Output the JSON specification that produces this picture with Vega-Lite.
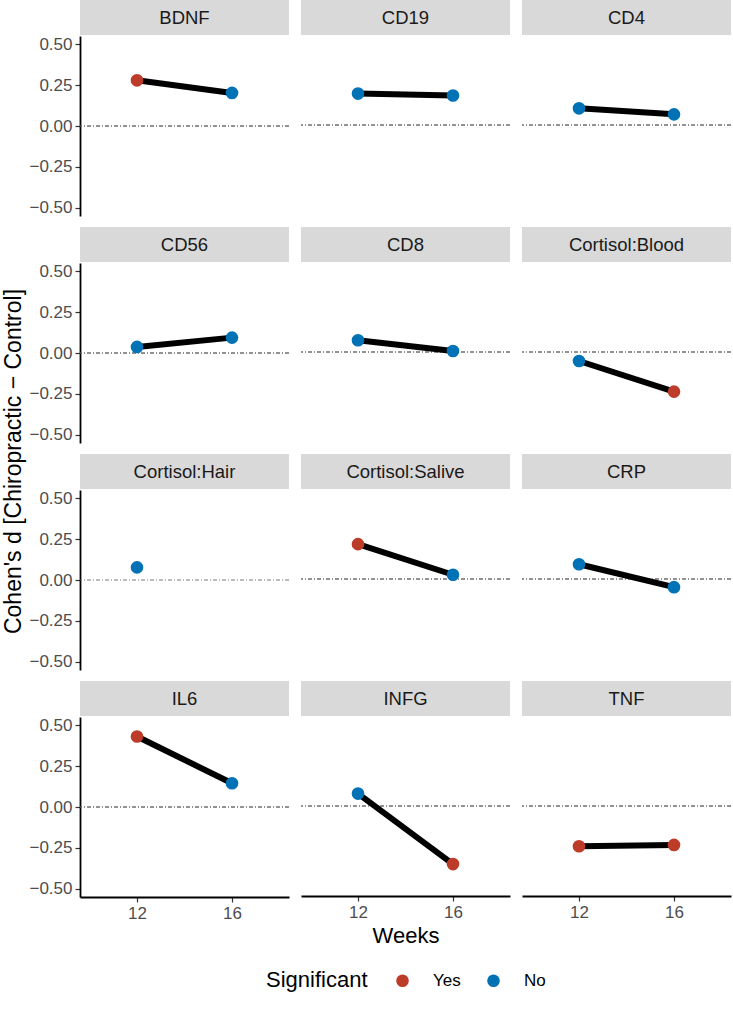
{
  "$schema": "https://vega.github.io/schema/vega-lite/v6.json",
  "padding": {"left": 2, "top": 0, "right": 0, "bottom": 4},
  "background": "white",
  "title": {"text": "Cohen's d [Chiropractic − Control]", "orient": "left", "anchor": "middle", "font": "Liberation Sans", "fontSize": 23, "fontWeight": "normal", "color": "black", "offset": 3, "dx": 34},
  "datasets": {
    "d": [
      {"marker": "BDNF", "week": 12, "d": 0.279, "sig": "Yes"},
      {"marker": "BDNF", "week": 16, "d": 0.202, "sig": "No"},
      {"marker": "CD19", "week": 12, "d": 0.192, "sig": "No"},
      {"marker": "CD19", "week": 16, "d": 0.180, "sig": "No"},
      {"marker": "CD4", "week": 12, "d": 0.102, "sig": "No"},
      {"marker": "CD4", "week": 16, "d": 0.065, "sig": "No"},
      {"marker": "CD56", "week": 12, "d": 0.037, "sig": "No"},
      {"marker": "CD56", "week": 16, "d": 0.094, "sig": "No"},
      {"marker": "CD8", "week": 12, "d": 0.072, "sig": "No"},
      {"marker": "CD8", "week": 16, "d": 0.006, "sig": "No"},
      {"marker": "Cortisol:Blood", "week": 12, "d": -0.055, "sig": "No"},
      {"marker": "Cortisol:Blood", "week": 16, "d": -0.242, "sig": "Yes"},
      {"marker": "Cortisol:Hair", "week": 12, "d": 0.077, "sig": "No"},
      {"marker": "Cortisol:Salive", "week": 12, "d": 0.213, "sig": "Yes"},
      {"marker": "Cortisol:Salive", "week": 16, "d": 0.026, "sig": "No"},
      {"marker": "CRP", "week": 12, "d": 0.090, "sig": "No"},
      {"marker": "CRP", "week": 16, "d": -0.050, "sig": "No"},
      {"marker": "IL6", "week": 12, "d": 0.431, "sig": "Yes"},
      {"marker": "IL6", "week": 16, "d": 0.145, "sig": "No"},
      {"marker": "INFG", "week": 12, "d": 0.076, "sig": "No"},
      {"marker": "INFG", "week": 16, "d": -0.355, "sig": "Yes"},
      {"marker": "TNF", "week": 12, "d": -0.246, "sig": "Yes"},
      {"marker": "TNF", "week": 16, "d": -0.238, "sig": "Yes"}
    ]
  },
  "data": {"name": "d"},
  "spacing": 11,
  "vconcat": [
    {"spacing": 10, "hconcat": [
      {"spacing": 0, "vconcat": [
        {"width": 209, "height": 35, "view": {"fill": "#D9D9D9", "stroke": null},
         "transform": [{"filter": "datum.marker === 'BDNF' && datum.week === 12"}],
         "mark": {"type": "text", "font": "Liberation Sans", "fontSize": 18.5, "color": "#1A1A1A", "align": "center", "baseline": "middle"},
         "encoding": {"text": {"field": "marker"}}},
        {"width": 209, "height": 180,
         "transform": [{"filter": "datum.marker === 'BDNF'"}],
         "layer": [
           {"mark": {"type": "rule", "color": "#555555", "strokeWidth": 0.8, "strokeDash": [4, 2, 1, 2]},
            "encoding": {"y": {"datum": 0, "type": "quantitative", "scale": {"domain": [-0.55, 0.55], "nice": false, "zero": false}, "axis": {"values": [-0.5, -0.25, 0, 0.25, 0.5], "format": ".2f", "title": null}}}},
           {"mark": {"type": "line", "color": "black", "strokeWidth": 6},
            "encoding": {
              "x": {"field": "week", "type": "quantitative", "scale": {"domain": [9.6, 18.4], "nice": false, "zero": false}, "axis": null},
              "y": {"field": "d", "type": "quantitative", "scale": {"domain": [-0.55, 0.55], "nice": false, "zero": false}, "axis": {"values": [-0.5, -0.25, 0, 0.25, 0.5], "format": ".2f", "title": null}}}},
           {"mark": {"type": "circle", "size": 160, "opacity": 1},
            "encoding": {
              "x": {"field": "week", "type": "quantitative", "scale": {"domain": [9.6, 18.4], "nice": false, "zero": false}, "axis": null},
              "y": {"field": "d", "type": "quantitative", "scale": {"domain": [-0.55, 0.55], "nice": false, "zero": false}, "axis": {"values": [-0.5, -0.25, 0, 0.25, 0.5], "format": ".2f", "title": null}},
              "color": {"field": "sig", "type": "nominal", "title": "Significant", "scale": {"domain": ["Yes", "No"], "range": ["#BC3C29", "#0072B5"]}}}}
         ]}
      ]},
      {"spacing": 0, "vconcat": [
        {"width": 209, "height": 35, "view": {"fill": "#D9D9D9", "stroke": null},
         "transform": [{"filter": "datum.marker === 'CD19' && datum.week === 12"}],
         "mark": {"type": "text", "font": "Liberation Sans", "fontSize": 18.5, "color": "#1A1A1A", "align": "center", "baseline": "middle"},
         "encoding": {"text": {"field": "marker"}}},
        {"width": 209, "height": 180,
         "transform": [{"filter": "datum.marker === 'CD19'"}],
         "layer": [
           {"mark": {"type": "rule", "color": "#555555", "strokeWidth": 0.8, "strokeDash": [4, 2, 1, 2]},
            "encoding": {"y": {"datum": 0, "type": "quantitative", "scale": {"domain": [-0.55, 0.55], "nice": false, "zero": false}, "axis": null}}},
           {"mark": {"type": "line", "color": "black", "strokeWidth": 6},
            "encoding": {
              "x": {"field": "week", "type": "quantitative", "scale": {"domain": [9.6, 18.4], "nice": false, "zero": false}, "axis": null},
              "y": {"field": "d", "type": "quantitative", "scale": {"domain": [-0.55, 0.55], "nice": false, "zero": false}, "axis": null}}},
           {"mark": {"type": "circle", "size": 160, "opacity": 1},
            "encoding": {
              "x": {"field": "week", "type": "quantitative", "scale": {"domain": [9.6, 18.4], "nice": false, "zero": false}, "axis": null},
              "y": {"field": "d", "type": "quantitative", "scale": {"domain": [-0.55, 0.55], "nice": false, "zero": false}, "axis": null},
              "color": {"field": "sig", "type": "nominal", "title": "Significant", "scale": {"domain": ["Yes", "No"], "range": ["#BC3C29", "#0072B5"]}}}}
         ]}
      ]},
      {"spacing": 0, "vconcat": [
        {"width": 209, "height": 35, "view": {"fill": "#D9D9D9", "stroke": null},
         "transform": [{"filter": "datum.marker === 'CD4' && datum.week === 12"}],
         "mark": {"type": "text", "font": "Liberation Sans", "fontSize": 18.5, "color": "#1A1A1A", "align": "center", "baseline": "middle"},
         "encoding": {"text": {"field": "marker"}}},
        {"width": 209, "height": 180,
         "transform": [{"filter": "datum.marker === 'CD4'"}],
         "layer": [
           {"mark": {"type": "rule", "color": "#555555", "strokeWidth": 0.8, "strokeDash": [4, 2, 1, 2]},
            "encoding": {"y": {"datum": 0, "type": "quantitative", "scale": {"domain": [-0.55, 0.55], "nice": false, "zero": false}, "axis": null}}},
           {"mark": {"type": "line", "color": "black", "strokeWidth": 6},
            "encoding": {
              "x": {"field": "week", "type": "quantitative", "scale": {"domain": [9.6, 18.4], "nice": false, "zero": false}, "axis": null},
              "y": {"field": "d", "type": "quantitative", "scale": {"domain": [-0.55, 0.55], "nice": false, "zero": false}, "axis": null}}},
           {"mark": {"type": "circle", "size": 160, "opacity": 1},
            "encoding": {
              "x": {"field": "week", "type": "quantitative", "scale": {"domain": [9.6, 18.4], "nice": false, "zero": false}, "axis": null},
              "y": {"field": "d", "type": "quantitative", "scale": {"domain": [-0.55, 0.55], "nice": false, "zero": false}, "axis": null},
              "color": {"field": "sig", "type": "nominal", "title": "Significant", "scale": {"domain": ["Yes", "No"], "range": ["#BC3C29", "#0072B5"]}}}}
         ]}
      ]}
    ]},
    {"spacing": 10, "hconcat": [
      {"spacing": 0, "vconcat": [
        {"width": 209, "height": 35, "view": {"fill": "#D9D9D9", "stroke": null},
         "transform": [{"filter": "datum.marker === 'CD56' && datum.week === 12"}],
         "mark": {"type": "text", "font": "Liberation Sans", "fontSize": 18.5, "color": "#1A1A1A", "align": "center", "baseline": "middle"},
         "encoding": {"text": {"field": "marker"}}},
        {"width": 209, "height": 180,
         "transform": [{"filter": "datum.marker === 'CD56'"}],
         "layer": [
           {"mark": {"type": "rule", "color": "#555555", "strokeWidth": 0.8, "strokeDash": [4, 2, 1, 2]},
            "encoding": {"y": {"datum": 0, "type": "quantitative", "scale": {"domain": [-0.55, 0.55], "nice": false, "zero": false}, "axis": {"values": [-0.5, -0.25, 0, 0.25, 0.5], "format": ".2f", "title": null}}}},
           {"mark": {"type": "line", "color": "black", "strokeWidth": 6},
            "encoding": {
              "x": {"field": "week", "type": "quantitative", "scale": {"domain": [9.6, 18.4], "nice": false, "zero": false}, "axis": null},
              "y": {"field": "d", "type": "quantitative", "scale": {"domain": [-0.55, 0.55], "nice": false, "zero": false}, "axis": {"values": [-0.5, -0.25, 0, 0.25, 0.5], "format": ".2f", "title": null}}}},
           {"mark": {"type": "circle", "size": 160, "opacity": 1},
            "encoding": {
              "x": {"field": "week", "type": "quantitative", "scale": {"domain": [9.6, 18.4], "nice": false, "zero": false}, "axis": null},
              "y": {"field": "d", "type": "quantitative", "scale": {"domain": [-0.55, 0.55], "nice": false, "zero": false}, "axis": {"values": [-0.5, -0.25, 0, 0.25, 0.5], "format": ".2f", "title": null}},
              "color": {"field": "sig", "type": "nominal", "title": "Significant", "scale": {"domain": ["Yes", "No"], "range": ["#BC3C29", "#0072B5"]}}}}
         ]}
      ]},
      {"spacing": 0, "vconcat": [
        {"width": 209, "height": 35, "view": {"fill": "#D9D9D9", "stroke": null},
         "transform": [{"filter": "datum.marker === 'CD8' && datum.week === 12"}],
         "mark": {"type": "text", "font": "Liberation Sans", "fontSize": 18.5, "color": "#1A1A1A", "align": "center", "baseline": "middle"},
         "encoding": {"text": {"field": "marker"}}},
        {"width": 209, "height": 180,
         "transform": [{"filter": "datum.marker === 'CD8'"}],
         "layer": [
           {"mark": {"type": "rule", "color": "#555555", "strokeWidth": 0.8, "strokeDash": [4, 2, 1, 2]},
            "encoding": {"y": {"datum": 0, "type": "quantitative", "scale": {"domain": [-0.55, 0.55], "nice": false, "zero": false}, "axis": null}}},
           {"mark": {"type": "line", "color": "black", "strokeWidth": 6},
            "encoding": {
              "x": {"field": "week", "type": "quantitative", "scale": {"domain": [9.6, 18.4], "nice": false, "zero": false}, "axis": null},
              "y": {"field": "d", "type": "quantitative", "scale": {"domain": [-0.55, 0.55], "nice": false, "zero": false}, "axis": null}}},
           {"mark": {"type": "circle", "size": 160, "opacity": 1},
            "encoding": {
              "x": {"field": "week", "type": "quantitative", "scale": {"domain": [9.6, 18.4], "nice": false, "zero": false}, "axis": null},
              "y": {"field": "d", "type": "quantitative", "scale": {"domain": [-0.55, 0.55], "nice": false, "zero": false}, "axis": null},
              "color": {"field": "sig", "type": "nominal", "title": "Significant", "scale": {"domain": ["Yes", "No"], "range": ["#BC3C29", "#0072B5"]}}}}
         ]}
      ]},
      {"spacing": 0, "vconcat": [
        {"width": 209, "height": 35, "view": {"fill": "#D9D9D9", "stroke": null},
         "transform": [{"filter": "datum.marker === 'Cortisol:Blood' && datum.week === 12"}],
         "mark": {"type": "text", "font": "Liberation Sans", "fontSize": 18.5, "color": "#1A1A1A", "align": "center", "baseline": "middle"},
         "encoding": {"text": {"field": "marker"}}},
        {"width": 209, "height": 180,
         "transform": [{"filter": "datum.marker === 'Cortisol:Blood'"}],
         "layer": [
           {"mark": {"type": "rule", "color": "#555555", "strokeWidth": 0.8, "strokeDash": [4, 2, 1, 2]},
            "encoding": {"y": {"datum": 0, "type": "quantitative", "scale": {"domain": [-0.55, 0.55], "nice": false, "zero": false}, "axis": null}}},
           {"mark": {"type": "line", "color": "black", "strokeWidth": 6},
            "encoding": {
              "x": {"field": "week", "type": "quantitative", "scale": {"domain": [9.6, 18.4], "nice": false, "zero": false}, "axis": null},
              "y": {"field": "d", "type": "quantitative", "scale": {"domain": [-0.55, 0.55], "nice": false, "zero": false}, "axis": null}}},
           {"mark": {"type": "circle", "size": 160, "opacity": 1},
            "encoding": {
              "x": {"field": "week", "type": "quantitative", "scale": {"domain": [9.6, 18.4], "nice": false, "zero": false}, "axis": null},
              "y": {"field": "d", "type": "quantitative", "scale": {"domain": [-0.55, 0.55], "nice": false, "zero": false}, "axis": null},
              "color": {"field": "sig", "type": "nominal", "title": "Significant", "scale": {"domain": ["Yes", "No"], "range": ["#BC3C29", "#0072B5"]}}}}
         ]}
      ]}
    ]},
    {"spacing": 10, "hconcat": [
      {"spacing": 0, "vconcat": [
        {"width": 209, "height": 35, "view": {"fill": "#D9D9D9", "stroke": null},
         "transform": [{"filter": "datum.marker === 'Cortisol:Hair' && datum.week === 12"}],
         "mark": {"type": "text", "font": "Liberation Sans", "fontSize": 18.5, "color": "#1A1A1A", "align": "center", "baseline": "middle"},
         "encoding": {"text": {"field": "marker"}}},
        {"width": 209, "height": 180,
         "transform": [{"filter": "datum.marker === 'Cortisol:Hair'"}],
         "layer": [
           {"mark": {"type": "rule", "color": "#555555", "strokeWidth": 0.8, "strokeDash": [4, 2, 1, 2]},
            "encoding": {"y": {"datum": 0, "type": "quantitative", "scale": {"domain": [-0.55, 0.55], "nice": false, "zero": false}, "axis": {"values": [-0.5, -0.25, 0, 0.25, 0.5], "format": ".2f", "title": null}}}},
           {"mark": {"type": "line", "color": "black", "strokeWidth": 6},
            "encoding": {
              "x": {"field": "week", "type": "quantitative", "scale": {"domain": [9.6, 18.4], "nice": false, "zero": false}, "axis": null},
              "y": {"field": "d", "type": "quantitative", "scale": {"domain": [-0.55, 0.55], "nice": false, "zero": false}, "axis": {"values": [-0.5, -0.25, 0, 0.25, 0.5], "format": ".2f", "title": null}}}},
           {"mark": {"type": "circle", "size": 160, "opacity": 1},
            "encoding": {
              "x": {"field": "week", "type": "quantitative", "scale": {"domain": [9.6, 18.4], "nice": false, "zero": false}, "axis": null},
              "y": {"field": "d", "type": "quantitative", "scale": {"domain": [-0.55, 0.55], "nice": false, "zero": false}, "axis": {"values": [-0.5, -0.25, 0, 0.25, 0.5], "format": ".2f", "title": null}},
              "color": {"field": "sig", "type": "nominal", "title": "Significant", "scale": {"domain": ["Yes", "No"], "range": ["#BC3C29", "#0072B5"]}}}}
         ]}
      ]},
      {"spacing": 0, "vconcat": [
        {"width": 209, "height": 35, "view": {"fill": "#D9D9D9", "stroke": null},
         "transform": [{"filter": "datum.marker === 'Cortisol:Salive' && datum.week === 12"}],
         "mark": {"type": "text", "font": "Liberation Sans", "fontSize": 18.5, "color": "#1A1A1A", "align": "center", "baseline": "middle"},
         "encoding": {"text": {"field": "marker"}}},
        {"width": 209, "height": 180,
         "transform": [{"filter": "datum.marker === 'Cortisol:Salive'"}],
         "layer": [
           {"mark": {"type": "rule", "color": "#555555", "strokeWidth": 0.8, "strokeDash": [4, 2, 1, 2]},
            "encoding": {"y": {"datum": 0, "type": "quantitative", "scale": {"domain": [-0.55, 0.55], "nice": false, "zero": false}, "axis": null}}},
           {"mark": {"type": "line", "color": "black", "strokeWidth": 6},
            "encoding": {
              "x": {"field": "week", "type": "quantitative", "scale": {"domain": [9.6, 18.4], "nice": false, "zero": false}, "axis": null},
              "y": {"field": "d", "type": "quantitative", "scale": {"domain": [-0.55, 0.55], "nice": false, "zero": false}, "axis": null}}},
           {"mark": {"type": "circle", "size": 160, "opacity": 1},
            "encoding": {
              "x": {"field": "week", "type": "quantitative", "scale": {"domain": [9.6, 18.4], "nice": false, "zero": false}, "axis": null},
              "y": {"field": "d", "type": "quantitative", "scale": {"domain": [-0.55, 0.55], "nice": false, "zero": false}, "axis": null},
              "color": {"field": "sig", "type": "nominal", "title": "Significant", "scale": {"domain": ["Yes", "No"], "range": ["#BC3C29", "#0072B5"]}}}}
         ]}
      ]},
      {"spacing": 0, "vconcat": [
        {"width": 209, "height": 35, "view": {"fill": "#D9D9D9", "stroke": null},
         "transform": [{"filter": "datum.marker === 'CRP' && datum.week === 12"}],
         "mark": {"type": "text", "font": "Liberation Sans", "fontSize": 18.5, "color": "#1A1A1A", "align": "center", "baseline": "middle"},
         "encoding": {"text": {"field": "marker"}}},
        {"width": 209, "height": 180,
         "transform": [{"filter": "datum.marker === 'CRP'"}],
         "layer": [
           {"mark": {"type": "rule", "color": "#555555", "strokeWidth": 0.8, "strokeDash": [4, 2, 1, 2]},
            "encoding": {"y": {"datum": 0, "type": "quantitative", "scale": {"domain": [-0.55, 0.55], "nice": false, "zero": false}, "axis": null}}},
           {"mark": {"type": "line", "color": "black", "strokeWidth": 6},
            "encoding": {
              "x": {"field": "week", "type": "quantitative", "scale": {"domain": [9.6, 18.4], "nice": false, "zero": false}, "axis": null},
              "y": {"field": "d", "type": "quantitative", "scale": {"domain": [-0.55, 0.55], "nice": false, "zero": false}, "axis": null}}},
           {"mark": {"type": "circle", "size": 160, "opacity": 1},
            "encoding": {
              "x": {"field": "week", "type": "quantitative", "scale": {"domain": [9.6, 18.4], "nice": false, "zero": false}, "axis": null},
              "y": {"field": "d", "type": "quantitative", "scale": {"domain": [-0.55, 0.55], "nice": false, "zero": false}, "axis": null},
              "color": {"field": "sig", "type": "nominal", "title": "Significant", "scale": {"domain": ["Yes", "No"], "range": ["#BC3C29", "#0072B5"]}}}}
         ]}
      ]}
    ]},
    {"spacing": 10, "hconcat": [
      {"spacing": 0, "vconcat": [
        {"width": 209, "height": 35, "view": {"fill": "#D9D9D9", "stroke": null},
         "transform": [{"filter": "datum.marker === 'IL6' && datum.week === 12"}],
         "mark": {"type": "text", "font": "Liberation Sans", "fontSize": 18.5, "color": "#1A1A1A", "align": "center", "baseline": "middle"},
         "encoding": {"text": {"field": "marker"}}},
        {"width": 209, "height": 180,
         "transform": [{"filter": "datum.marker === 'IL6'"}],
         "layer": [
           {"mark": {"type": "rule", "color": "#555555", "strokeWidth": 0.8, "strokeDash": [4, 2, 1, 2]},
            "encoding": {"y": {"datum": 0, "type": "quantitative", "scale": {"domain": [-0.55, 0.55], "nice": false, "zero": false}, "axis": {"values": [-0.5, -0.25, 0, 0.25, 0.5], "format": ".2f", "title": null}}}},
           {"mark": {"type": "line", "color": "black", "strokeWidth": 6},
            "encoding": {
              "x": {"field": "week", "type": "quantitative", "scale": {"domain": [9.6, 18.4], "nice": false, "zero": false}, "axis": {"values": [12, 16], "title": null}},
              "y": {"field": "d", "type": "quantitative", "scale": {"domain": [-0.55, 0.55], "nice": false, "zero": false}, "axis": {"values": [-0.5, -0.25, 0, 0.25, 0.5], "format": ".2f", "title": null}}}},
           {"mark": {"type": "circle", "size": 160, "opacity": 1},
            "encoding": {
              "x": {"field": "week", "type": "quantitative", "scale": {"domain": [9.6, 18.4], "nice": false, "zero": false}, "axis": {"values": [12, 16], "title": null}},
              "y": {"field": "d", "type": "quantitative", "scale": {"domain": [-0.55, 0.55], "nice": false, "zero": false}, "axis": {"values": [-0.5, -0.25, 0, 0.25, 0.5], "format": ".2f", "title": null}},
              "color": {"field": "sig", "type": "nominal", "title": "Significant", "scale": {"domain": ["Yes", "No"], "range": ["#BC3C29", "#0072B5"]}}}}
         ]}
      ]},
      {"spacing": 0, "vconcat": [
        {"width": 209, "height": 35, "view": {"fill": "#D9D9D9", "stroke": null},
         "transform": [{"filter": "datum.marker === 'INFG' && datum.week === 12"}],
         "mark": {"type": "text", "font": "Liberation Sans", "fontSize": 18.5, "color": "#1A1A1A", "align": "center", "baseline": "middle"},
         "encoding": {"text": {"field": "marker"}}},
        {"width": 209, "height": 180,
         "transform": [{"filter": "datum.marker === 'INFG'"}],
         "layer": [
           {"mark": {"type": "rule", "color": "#555555", "strokeWidth": 0.8, "strokeDash": [4, 2, 1, 2]},
            "encoding": {"y": {"datum": 0, "type": "quantitative", "scale": {"domain": [-0.55, 0.55], "nice": false, "zero": false}, "axis": null}}},
           {"mark": {"type": "line", "color": "black", "strokeWidth": 6},
            "encoding": {
              "x": {"field": "week", "type": "quantitative", "scale": {"domain": [9.6, 18.4], "nice": false, "zero": false}, "axis": {"values": [12, 16], "title": "Weeks"}},
              "y": {"field": "d", "type": "quantitative", "scale": {"domain": [-0.55, 0.55], "nice": false, "zero": false}, "axis": null}}},
           {"mark": {"type": "circle", "size": 160, "opacity": 1},
            "encoding": {
              "x": {"field": "week", "type": "quantitative", "scale": {"domain": [9.6, 18.4], "nice": false, "zero": false}, "axis": {"values": [12, 16], "title": "Weeks"}},
              "y": {"field": "d", "type": "quantitative", "scale": {"domain": [-0.55, 0.55], "nice": false, "zero": false}, "axis": null},
              "color": {"field": "sig", "type": "nominal", "title": "Significant", "scale": {"domain": ["Yes", "No"], "range": ["#BC3C29", "#0072B5"]}}}}
         ]}
      ]},
      {"spacing": 0, "vconcat": [
        {"width": 209, "height": 35, "view": {"fill": "#D9D9D9", "stroke": null},
         "transform": [{"filter": "datum.marker === 'TNF' && datum.week === 12"}],
         "mark": {"type": "text", "font": "Liberation Sans", "fontSize": 18.5, "color": "#1A1A1A", "align": "center", "baseline": "middle"},
         "encoding": {"text": {"field": "marker"}}},
        {"width": 209, "height": 180,
         "transform": [{"filter": "datum.marker === 'TNF'"}],
         "layer": [
           {"mark": {"type": "rule", "color": "#555555", "strokeWidth": 0.8, "strokeDash": [4, 2, 1, 2]},
            "encoding": {"y": {"datum": 0, "type": "quantitative", "scale": {"domain": [-0.55, 0.55], "nice": false, "zero": false}, "axis": null}}},
           {"mark": {"type": "line", "color": "black", "strokeWidth": 6},
            "encoding": {
              "x": {"field": "week", "type": "quantitative", "scale": {"domain": [9.6, 18.4], "nice": false, "zero": false}, "axis": {"values": [12, 16], "title": null}},
              "y": {"field": "d", "type": "quantitative", "scale": {"domain": [-0.55, 0.55], "nice": false, "zero": false}, "axis": null}}},
           {"mark": {"type": "circle", "size": 160, "opacity": 1},
            "encoding": {
              "x": {"field": "week", "type": "quantitative", "scale": {"domain": [9.6, 18.4], "nice": false, "zero": false}, "axis": {"values": [12, 16], "title": null}},
              "y": {"field": "d", "type": "quantitative", "scale": {"domain": [-0.55, 0.55], "nice": false, "zero": false}, "axis": null},
              "color": {"field": "sig", "type": "nominal", "title": "Significant", "scale": {"domain": ["Yes", "No"], "range": ["#BC3C29", "#0072B5"]}}}}
         ]}
      ]}
    ]}
  ],
  "config": {
    "font": "Liberation Sans",
    "view": {"stroke": null},
    "axis": {
      "grid": false,
      "domainColor": "black",
      "domainWidth": 1.8,
      "tickColor": "#333333",
      "tickWidth": 1.2,
      "tickSize": 5,
      "labelFont": "Liberation Sans",
      "labelFontSize": 17,
      "labelColor": "#4D4D4D",
      "labelPadding": 3,
      "titleFont": "Liberation Sans",
      "titleFontSize": 22,
      "titleFontWeight": "normal",
      "titleColor": "black",
      "titlePadding": 5
    },
    "legend": {
      "orient": "none",
      "legendX": 186,
      "legendY": 972,
      "direction": "horizontal",
      "titleOrient": "left",
      "titleFont": "Liberation Sans",
      "titleFontSize": 22,
      "titleFontWeight": "normal",
      "titleColor": "black",
      "titlePadding": 26,
      "labelFont": "Liberation Sans",
      "labelFontSize": 17,
      "labelColor": "black",
      "symbolType": "circle",
      "symbolSize": 160,
      "symbolStrokeWidth": 0,
      "labelOffset": 22,
      "columnPadding": 24
    }
  }
}
